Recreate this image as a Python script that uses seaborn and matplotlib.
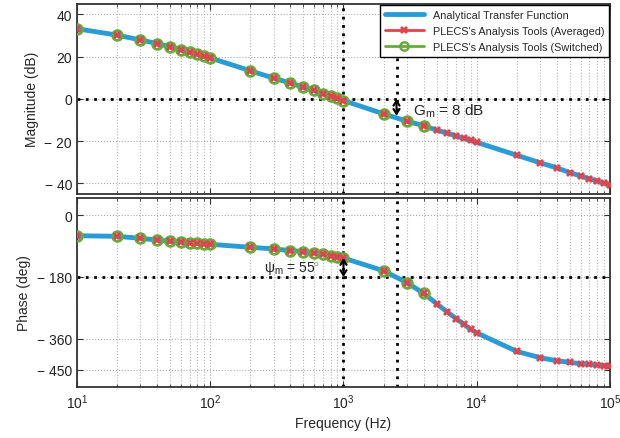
import matplotlib
matplotlib.use('Agg')
import matplotlib.pyplot as plt
from matplotlib.lines import Line2D
import numpy as np
import pandas as pd
import seaborn as sns

# Frequencies of the analysis points (Hz)
freq = [10, 20, 30, 40, 50, 60, 70, 80, 90,
        100, 200, 300, 400, 500, 600, 700, 800, 900,
        1000, 2000, 3000, 4000, 5000, 6000, 7000, 8000, 9000,
        10000, 20000, 30000, 40000, 50000, 60000, 70000, 80000, 90000, 100000]

# Magnitude (dB)
mag_db = [33.2, 30.2, 27.9, 26.2, 24.6, 23.3, 22.0, 21.1, 20.1,
          19.4, 13.3, 9.8, 7.5, 5.5, 4.0, 2.4, 1.3, 0.3,
          -0.8, -7.1, -10.6, -12.7, -14.8, -16.2, -17.6, -18.7, -19.7,
          -20.6, -26.7, -30.3, -32.7, -34.9, -36.5, -37.8, -38.9, -39.9, -40.6]

# Phase (deg)
phase_deg = [-60, -61.8, -67.6, -72.4, -76.2, -78.2, -80.1, -82, -83,
             -84.9, -93.6, -98.4, -103.2, -106, -110, -113.8, -117.7, -121.6,
             -125, -162, -196.8, -227.8, -257.6, -281.7, -301, -317.5, -332,
             -342.4, -396.5, -414.8, -423.5, -428.4, -432, -434, -436, -438, -439]

# the switched model was only run up to 4 kHz
n_switched = 22

f_cross = 1000      # gain crossover
f_180 = 2500        # phase crossover
gain_margin = 8
phase_margin = 55

mag_ticks = [40, 20, 0, -20, -40]
phase_ticks = [0, -180, -360, -450]

df = pd.DataFrame({'freq': freq, 'mag': mag_db, 'phase': phase_deg})
df_sw = df.iloc[:n_switched]

sns.set_style('ticks')
plt.rcParams['font.family'] = ['Liberation Sans', 'DejaVu Sans']
plt.rcParams['mathtext.fontset'] = 'custom'
plt.rcParams['mathtext.rm'] = 'Liberation Sans'
plt.rcParams['mathtext.it'] = 'Liberation Sans:italic'

blue = '#2b9bd5'
red = '#e2434a'
green = '#6aaa3c'
spine_col = '#333333'

fig = plt.figure(figsize=(6.2, 4.39), dpi=100)
ax1 = fig.add_axes([0.124, 0.556, 0.86, 0.433])
ax2 = fig.add_axes([0.124, 0.116, 0.86, 0.431], sharex=ax1)

for ax, col, ylim, ticks in [(ax1, 'mag', (-45, 45), mag_ticks),
                             (ax2, 'phase', (-500, 50), phase_ticks)]:
   sns.lineplot(ax=ax, data=df, x='freq', y=col, color=blue, lw=3.5, zorder=3)
   sns.lineplot(ax=ax, data=df, x='freq', y=col, color=red, lw=0, marker='X',
                markersize=6, markeredgewidth=0, zorder=5)
   ax.plot(df_sw['freq'], df_sw[col], ls='none', marker='o', markersize=7,
           markerfacecolor='none', markeredgecolor=green, markeredgewidth=2, zorder=4)
   ax.set_xscale('log')
   ax.set_xlim(10, 1e5)
   ax.set_ylim(*ylim)
   ax.set_yticks(ticks)
   ax.set_yticklabels([str(t).replace('-', '\u2212 ') for t in ticks])
   ax.grid(True, which='major', axis='both', ls=':', lw=0.8, color='#aaaaaa')
   ax.grid(True, which='minor', axis='x', ls=':', lw=0.8, color='#b5b5b5')
   ax.tick_params(which='both', direction='in', top=True, right=True,
                  labelsize=10, color=spine_col, labelcolor='#222222')
   ax.tick_params(which='major', length=4)
   ax.tick_params(which='minor', length=2.5)
   for s in ax.spines.values():
      s.set_color(spine_col)
      s.set_linewidth(1.3)
   ax.axvline(f_cross, color='black', ls=(0, (1, 2)), lw=2, zorder=2)
   ax.axvline(f_180, color='black', ls=(0, (1, 2)), lw=2, zorder=2)

ax1.axhline(0, color='black', ls=(0, (1, 2)), lw=2, zorder=2)
ax2.axhline(-180, color='black', ls=(0, (1, 2)), lw=2, zorder=2)

ax1.tick_params(labelbottom=False)
ax1.set_xlabel('')
ax1.set_ylabel('Magnitude (dB)', fontsize=10)
ax2.set_ylabel('Phase (deg)', fontsize=10)
ax2.set_xlabel('Frequency (Hz)', fontsize=10)

arrow = dict(arrowstyle='<->, head_length=0.35, head_width=0.22', color='black',
             lw=1.5, shrinkA=0, shrinkB=0)

# gain margin
ax1.annotate('', xy=(f_180, -gain_margin), xytext=(f_180, 0), arrowprops=arrow, zorder=6)
ax1.text(3300, -5.5, 'G$_\\mathrm{m}$ = %d dB' % gain_margin, fontsize=11,
         va='center', ha='left', color='#222222')

# phase margin
ax2.annotate('', xy=(f_cross, -180 + phase_margin), xytext=(f_cross, -180),
             arrowprops=arrow, zorder=6)
ax2.text(255, -155, '\u03c8$_\\mathrm{m}$ = %d$^{\\circ}$' % phase_margin, fontsize=10,
         va='center', ha='left', color='#222222')

handles = [
   Line2D([], [], color=blue, lw=3.5),
   Line2D([], [], color=red, lw=2, marker='X', markersize=6, markeredgewidth=0),
   Line2D([], [], color=green, lw=2, marker='o', markersize=6,
          markerfacecolor='none', markeredgewidth=1.8),
]
labels = ['Analytical Transfer Function',
          "PLECS's Analysis Tools (Averaged)",
          "PLECS's Analysis Tools (Switched)"]
leg = ax1.legend(handles, labels, loc='upper right', fontsize=7.8, fancybox=False,
                 framealpha=1, edgecolor='black', handlelength=3.6,
                 labelspacing=0.55, borderaxespad=0.1, borderpad=0.45)
leg.get_frame().set_linewidth(1.0)
leg.set_zorder(10)

fig.savefig('out.png', dpi=100)
